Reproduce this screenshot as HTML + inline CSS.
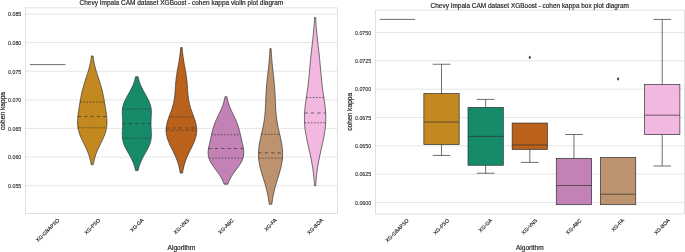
<!DOCTYPE html>
<html><head><meta charset="utf-8"><title>cohen kappa plots</title>
<style>html,body{margin:0;padding:0;background:#fff;font-family:"Liberation Sans",sans-serif}svg{display:block}</style></head>
<body>
<svg width="685" height="252" viewBox="0 0 685 252">
<rect width="685" height="252" fill="#fff"/>
<line x1="25.4" x2="337.4" y1="14.00" y2="14.00" stroke="#cccccc" stroke-width="0.5"/>
<text x="21.30" y="16.30" font-size="5.3" text-anchor="end" fill="#262626" font-family="Liberation Sans, sans-serif" stroke="#262626" stroke-width="0.1">0.085</text>
<line x1="25.4" x2="337.4" y1="42.61" y2="42.61" stroke="#cccccc" stroke-width="0.5"/>
<text x="21.30" y="44.91" font-size="5.3" text-anchor="end" fill="#262626" font-family="Liberation Sans, sans-serif" stroke="#262626" stroke-width="0.1">0.080</text>
<line x1="25.4" x2="337.4" y1="71.22" y2="71.22" stroke="#cccccc" stroke-width="0.5"/>
<text x="21.30" y="73.52" font-size="5.3" text-anchor="end" fill="#262626" font-family="Liberation Sans, sans-serif" stroke="#262626" stroke-width="0.1">0.075</text>
<line x1="25.4" x2="337.4" y1="99.83" y2="99.83" stroke="#cccccc" stroke-width="0.5"/>
<text x="21.30" y="102.13" font-size="5.3" text-anchor="end" fill="#262626" font-family="Liberation Sans, sans-serif" stroke="#262626" stroke-width="0.1">0.070</text>
<line x1="25.4" x2="337.4" y1="128.44" y2="128.44" stroke="#cccccc" stroke-width="0.5"/>
<text x="21.30" y="130.74" font-size="5.3" text-anchor="end" fill="#262626" font-family="Liberation Sans, sans-serif" stroke="#262626" stroke-width="0.1">0.065</text>
<line x1="25.4" x2="337.4" y1="157.05" y2="157.05" stroke="#cccccc" stroke-width="0.5"/>
<text x="21.30" y="159.35" font-size="5.3" text-anchor="end" fill="#262626" font-family="Liberation Sans, sans-serif" stroke="#262626" stroke-width="0.1">0.060</text>
<line x1="25.4" x2="337.4" y1="185.66" y2="185.66" stroke="#cccccc" stroke-width="0.5"/>
<text x="21.30" y="187.96" font-size="5.3" text-anchor="end" fill="#262626" font-family="Liberation Sans, sans-serif" stroke="#262626" stroke-width="0.1">0.055</text>
<line x1="29.86" x2="65.51" y1="64.62" y2="64.62" stroke="#303030" stroke-width="0.7"/>
<path d="M91.15,164.60 L90.98,163.50 L90.78,162.40 L90.56,161.30 L90.32,160.21 L90.06,159.11 L89.77,158.01 L89.45,156.91 L89.11,155.82 L88.74,154.72 L88.34,153.62 L87.93,152.53 L87.48,151.43 L87.02,150.33 L86.54,149.23 L86.04,148.14 L85.52,147.04 L84.99,145.94 L84.46,144.84 L83.92,143.75 L83.38,142.65 L82.84,141.55 L82.31,140.46 L81.79,139.36 L81.29,138.26 L80.81,137.16 L80.36,136.07 L79.93,134.97 L79.53,133.87 L79.16,132.77 L78.83,131.68 L78.54,130.58 L78.28,129.48 L78.06,128.39 L77.88,127.29 L77.74,126.19 L77.63,125.09 L77.56,124.00 L77.52,122.90 L77.51,121.80 L77.54,120.70 L77.58,119.61 L77.65,118.51 L77.75,117.41 L77.86,116.32 L77.98,115.22 L78.12,114.12 L78.27,113.02 L78.42,111.93 L78.59,110.83 L78.76,109.73 L78.93,108.63 L79.10,107.54 L79.28,106.44 L79.46,105.34 L79.64,104.25 L79.82,103.15 L80.00,102.05 L80.19,100.95 L80.38,99.86 L80.58,98.76 L80.78,97.66 L80.99,96.56 L81.21,95.47 L81.43,94.37 L81.67,93.27 L81.92,92.18 L82.18,91.08 L82.44,89.98 L82.73,88.88 L83.02,87.79 L83.33,86.69 L83.64,85.59 L83.97,84.49 L84.31,83.40 L84.65,82.30 L85.01,81.20 L85.37,80.11 L85.73,79.01 L86.09,77.91 L86.46,76.81 L86.82,75.72 L87.18,74.62 L87.53,73.52 L87.88,72.42 L88.21,71.33 L88.54,70.23 L88.85,69.13 L89.15,68.03 L89.44,66.94 L89.71,65.84 L89.96,64.74 L90.20,63.65 L90.42,62.55 L90.63,61.45 L90.81,60.35 L90.99,59.26 L91.14,58.16 L91.29,57.06 L91.41,55.96 L93.10,55.96 L93.23,57.06 L93.37,58.16 L93.53,59.26 L93.70,60.35 L93.89,61.45 L94.09,62.55 L94.31,63.65 L94.55,64.74 L94.81,65.84 L95.08,66.94 L95.36,68.03 L95.66,69.13 L95.98,70.23 L96.30,71.33 L96.64,72.42 L96.98,73.52 L97.34,74.62 L97.70,75.72 L98.06,76.81 L98.42,77.91 L98.79,79.01 L99.15,80.11 L99.51,81.20 L99.86,82.30 L100.21,83.40 L100.54,84.49 L100.87,85.59 L101.19,86.69 L101.49,87.79 L101.79,88.88 L102.07,89.98 L102.34,91.08 L102.60,92.18 L102.84,93.27 L103.08,94.37 L103.31,95.47 L103.52,96.56 L103.73,97.66 L103.93,98.76 L104.13,99.86 L104.32,100.95 L104.51,102.05 L104.70,103.15 L104.88,104.25 L105.06,105.34 L105.24,106.44 L105.41,107.54 L105.59,108.63 L105.76,109.73 L105.93,110.83 L106.09,111.93 L106.25,113.02 L106.39,114.12 L106.53,115.22 L106.66,116.32 L106.77,117.41 L106.86,118.51 L106.93,119.61 L106.98,120.70 L107.00,121.80 L106.99,122.90 L106.96,124.00 L106.88,125.09 L106.78,126.19 L106.63,127.29 L106.45,128.39 L106.23,129.48 L105.98,130.58 L105.68,131.68 L105.35,132.77 L104.99,133.87 L104.59,134.97 L104.16,136.07 L103.70,137.16 L103.22,138.26 L102.72,139.36 L102.20,140.46 L101.67,141.55 L101.14,142.65 L100.60,143.75 L100.06,144.84 L99.52,145.94 L98.99,147.04 L98.48,148.14 L97.98,149.23 L97.49,150.33 L97.03,151.43 L96.59,152.53 L96.17,153.62 L95.78,154.72 L95.41,155.82 L95.06,156.91 L94.75,158.01 L94.46,159.11 L94.19,160.21 L93.95,161.30 L93.73,162.40 L93.54,163.50 L93.36,164.60Z" fill="#c38820" stroke="#303030" stroke-width="0.7" stroke-linejoin="miter"/>
<line x1="77.96" x2="106.55" y1="127.78" y2="127.78" stroke="#303030" stroke-width="0.7" stroke-dasharray="1.59 1.59"/>
<line x1="77.84" x2="106.67" y1="116.45" y2="116.45" stroke="#303030" stroke-width="0.7" stroke-dasharray="3.18 3.18"/>
<line x1="80.01" x2="104.51" y1="102.03" y2="102.03" stroke="#303030" stroke-width="0.7" stroke-dasharray="1.59 1.59"/>
<path d="M135.54,170.56 L135.34,169.61 L135.13,168.66 L134.89,167.71 L134.63,166.76 L134.34,165.82 L134.03,164.87 L133.69,163.92 L133.33,162.97 L132.94,162.03 L132.52,161.08 L132.09,160.13 L131.63,159.18 L131.15,158.23 L130.66,157.29 L130.14,156.34 L129.62,155.39 L129.09,154.44 L128.55,153.49 L128.01,152.55 L127.48,151.60 L126.95,150.65 L126.44,149.70 L125.94,148.76 L125.46,147.81 L125.01,146.86 L124.58,145.91 L124.19,144.96 L123.83,144.02 L123.50,143.07 L123.22,142.12 L122.97,141.17 L122.76,140.22 L122.59,139.28 L122.46,138.33 L122.36,137.38 L122.29,136.43 L122.26,135.49 L122.24,134.54 L122.26,133.59 L122.28,132.64 L122.33,131.69 L122.38,130.75 L122.43,129.80 L122.49,128.85 L122.54,127.90 L122.59,126.95 L122.63,126.01 L122.65,125.06 L122.67,124.11 L122.67,123.16 L122.66,122.22 L122.63,121.27 L122.59,120.32 L122.55,119.37 L122.49,118.42 L122.44,117.48 L122.38,116.53 L122.33,115.58 L122.29,114.63 L122.26,113.68 L122.25,112.74 L122.26,111.79 L122.30,110.84 L122.37,109.89 L122.47,108.95 L122.60,108.00 L122.78,107.05 L122.99,106.10 L123.24,105.15 L123.52,104.21 L123.85,103.26 L124.21,102.31 L124.60,101.36 L125.03,100.41 L125.48,99.47 L125.96,98.52 L126.46,97.57 L126.97,96.62 L127.50,95.67 L128.03,94.73 L128.57,93.78 L129.11,92.83 L129.64,91.88 L130.16,90.94 L130.67,89.99 L131.17,89.04 L131.64,88.09 L132.10,87.14 L132.54,86.20 L132.95,85.25 L133.34,84.30 L133.70,83.35 L134.04,82.40 L134.35,81.46 L134.63,80.51 L134.89,79.56 L135.13,78.61 L135.35,77.67 L135.54,76.72 L138.12,76.72 L138.31,77.67 L138.53,78.61 L138.76,79.56 L139.02,80.51 L139.31,81.46 L139.62,82.40 L139.96,83.35 L140.32,84.30 L140.71,85.25 L141.12,86.20 L141.55,87.14 L142.01,88.09 L142.49,89.04 L142.99,89.99 L143.50,90.94 L144.02,91.88 L144.55,92.83 L145.09,93.78 L145.62,94.73 L146.16,95.67 L146.68,96.62 L147.20,97.57 L147.70,98.52 L148.18,99.47 L148.63,100.41 L149.05,101.36 L149.45,102.31 L149.81,103.26 L150.13,104.21 L150.42,105.15 L150.67,106.10 L150.88,107.05 L151.05,108.00 L151.19,108.95 L151.29,109.89 L151.36,110.84 L151.39,111.79 L151.41,112.74 L151.40,113.68 L151.37,114.63 L151.33,115.58 L151.28,116.53 L151.22,117.48 L151.16,118.42 L151.11,119.37 L151.07,120.32 L151.03,121.27 L151.00,122.22 L150.99,123.16 L150.99,124.11 L151.00,125.06 L151.03,126.01 L151.07,126.95 L151.11,127.90 L151.17,128.85 L151.22,129.80 L151.28,130.75 L151.33,131.69 L151.37,132.64 L151.40,133.59 L151.41,134.54 L151.40,135.49 L151.36,136.43 L151.30,137.38 L151.20,138.33 L151.07,139.28 L150.90,140.22 L150.69,141.17 L150.44,142.12 L150.15,143.07 L149.83,144.02 L149.47,144.96 L149.07,145.91 L148.65,146.86 L148.20,147.81 L147.72,148.76 L147.22,149.70 L146.71,150.65 L146.18,151.60 L145.64,152.55 L145.11,153.49 L144.57,154.44 L144.04,155.39 L143.51,156.34 L143.00,157.29 L142.51,158.23 L142.03,159.18 L141.57,160.13 L141.13,161.08 L140.72,162.03 L140.33,162.97 L139.97,163.92 L139.63,164.87 L139.32,165.82 L139.03,166.76 L138.77,167.71 L138.53,168.66 L138.32,169.61 L138.12,170.56Z" fill="#158b6a" stroke="#303030" stroke-width="0.7" stroke-linejoin="miter"/>
<line x1="122.45" x2="151.21" y1="138.25" y2="138.25" stroke="#303030" stroke-width="0.7" stroke-dasharray="1.59 1.59"/>
<line x1="122.67" x2="150.99" y1="123.67" y2="123.67" stroke="#303030" stroke-width="0.7" stroke-dasharray="3.18 3.18"/>
<line x1="122.46" x2="151.20" y1="109.07" y2="109.07" stroke="#303030" stroke-width="0.7" stroke-dasharray="1.59 1.59"/>
<path d="M180.23,173.10 L180.03,171.83 L179.82,170.56 L179.58,169.29 L179.31,168.02 L179.01,166.76 L178.68,165.49 L178.33,164.22 L177.94,162.95 L177.52,161.68 L177.07,160.41 L176.59,159.15 L176.08,157.88 L175.54,156.61 L174.98,155.34 L174.40,154.07 L173.80,152.80 L173.19,151.53 L172.57,150.27 L171.94,149.00 L171.32,147.73 L170.70,146.46 L170.10,145.19 L169.52,143.92 L168.96,142.65 L168.44,141.39 L167.96,140.12 L167.52,138.85 L167.14,137.58 L166.80,136.31 L166.53,135.04 L166.32,133.78 L166.17,132.51 L166.08,131.24 L166.07,129.97 L166.11,128.70 L166.22,127.43 L166.39,126.16 L166.62,124.90 L166.89,123.63 L167.22,122.36 L167.58,121.09 L167.98,119.82 L168.41,118.55 L168.86,117.28 L169.32,116.02 L169.79,114.75 L170.26,113.48 L170.73,112.21 L171.18,110.94 L171.62,109.67 L172.04,108.41 L172.43,107.14 L172.80,105.87 L173.14,104.60 L173.45,103.33 L173.73,102.06 L173.98,100.79 L174.20,99.53 L174.39,98.26 L174.56,96.99 L174.70,95.72 L174.83,94.45 L174.94,93.18 L175.04,91.91 L175.13,90.65 L175.22,89.38 L175.30,88.11 L175.39,86.84 L175.48,85.57 L175.57,84.30 L175.68,83.04 L175.80,81.77 L175.93,80.50 L176.07,79.23 L176.22,77.96 L176.39,76.69 L176.57,75.42 L176.76,74.16 L176.96,72.89 L177.17,71.62 L177.39,70.35 L177.61,69.08 L177.84,67.81 L178.07,66.54 L178.30,65.28 L178.52,64.01 L178.74,62.74 L178.96,61.47 L179.17,60.20 L179.37,58.93 L179.56,57.67 L179.74,56.40 L179.91,55.13 L180.07,53.86 L180.22,52.59 L180.35,51.32 L180.48,50.05 L180.59,48.79 L180.70,47.52 L182.10,47.52 L182.21,48.79 L182.32,50.05 L182.45,51.32 L182.58,52.59 L182.73,53.86 L182.89,55.13 L183.06,56.40 L183.24,57.67 L183.43,58.93 L183.63,60.20 L183.84,61.47 L184.06,62.74 L184.28,64.01 L184.50,65.28 L184.73,66.54 L184.96,67.81 L185.19,69.08 L185.41,70.35 L185.63,71.62 L185.84,72.89 L186.04,74.16 L186.23,75.42 L186.41,76.69 L186.58,77.96 L186.73,79.23 L186.87,80.50 L187.00,81.77 L187.12,83.04 L187.23,84.30 L187.32,85.57 L187.41,86.84 L187.50,88.11 L187.58,89.38 L187.67,90.65 L187.76,91.91 L187.86,93.18 L187.97,94.45 L188.10,95.72 L188.24,96.99 L188.41,98.26 L188.60,99.53 L188.82,100.79 L189.07,102.06 L189.35,103.33 L189.66,104.60 L190.00,105.87 L190.37,107.14 L190.76,108.41 L191.18,109.67 L191.62,110.94 L192.07,112.21 L192.54,113.48 L193.01,114.75 L193.48,116.02 L193.94,117.28 L194.39,118.55 L194.82,119.82 L195.22,121.09 L195.58,122.36 L195.91,123.63 L196.18,124.90 L196.41,126.16 L196.58,127.43 L196.69,128.70 L196.73,129.97 L196.72,131.24 L196.63,132.51 L196.48,133.78 L196.27,135.04 L196.00,136.31 L195.66,137.58 L195.28,138.85 L194.84,140.12 L194.36,141.39 L193.84,142.65 L193.28,143.92 L192.70,145.19 L192.10,146.46 L191.48,147.73 L190.86,149.00 L190.23,150.27 L189.61,151.53 L189.00,152.80 L188.40,154.07 L187.82,155.34 L187.26,156.61 L186.72,157.88 L186.21,159.15 L185.73,160.41 L185.28,161.68 L184.86,162.95 L184.47,164.22 L184.12,165.49 L183.79,166.76 L183.49,168.02 L183.22,169.29 L182.98,170.56 L182.77,171.83 L182.57,173.10Z" fill="#ba611b" stroke="#303030" stroke-width="0.7" stroke-linejoin="miter"/>
<line x1="166.07" x2="196.73" y1="130.25" y2="130.25" stroke="#303030" stroke-width="0.7" stroke-dasharray="1.59 1.59"/>
<line x1="166.17" x2="196.63" y1="128.03" y2="128.03" stroke="#303030" stroke-width="0.7" stroke-dasharray="3.18 3.18"/>
<line x1="168.98" x2="193.82" y1="116.95" y2="116.95" stroke="#303030" stroke-width="0.7" stroke-dasharray="1.59 1.59"/>
<path d="M224.00,184.14 L223.71,183.25 L223.40,182.37 L223.05,181.49 L222.68,180.61 L222.27,179.72 L221.83,178.84 L221.36,177.96 L220.86,177.08 L220.33,176.19 L219.77,175.31 L219.19,174.43 L218.58,173.55 L217.96,172.66 L217.32,171.78 L216.67,170.90 L216.01,170.02 L215.35,169.13 L214.69,168.25 L214.04,167.37 L213.41,166.49 L212.79,165.60 L212.20,164.72 L211.63,163.84 L211.10,162.96 L210.61,162.07 L210.15,161.19 L209.74,160.31 L209.38,159.43 L209.06,158.54 L208.79,157.66 L208.57,156.78 L208.39,155.89 L208.27,155.01 L208.18,154.13 L208.14,153.25 L208.14,152.36 L208.18,151.48 L208.25,150.60 L208.34,149.72 L208.46,148.83 L208.61,147.95 L208.77,147.07 L208.94,146.19 L209.13,145.30 L209.32,144.42 L209.52,143.54 L209.72,142.66 L209.93,141.77 L210.13,140.89 L210.33,140.01 L210.53,139.13 L210.73,138.24 L210.93,137.36 L211.12,136.48 L211.32,135.60 L211.52,134.71 L211.72,133.83 L211.92,132.95 L212.13,132.06 L212.34,131.18 L212.57,130.30 L212.80,129.42 L213.05,128.53 L213.30,127.65 L213.58,126.77 L213.86,125.89 L214.16,125.00 L214.48,124.12 L214.81,123.24 L215.16,122.36 L215.52,121.47 L215.90,120.59 L216.28,119.71 L216.68,118.83 L217.09,117.94 L217.51,117.06 L217.93,116.18 L218.35,115.30 L218.78,114.41 L219.21,113.53 L219.63,112.65 L220.05,111.77 L220.46,110.88 L220.86,110.00 L221.25,109.12 L221.62,108.24 L221.99,107.35 L222.33,106.47 L222.66,105.59 L222.97,104.70 L223.27,103.82 L223.54,102.94 L223.80,102.06 L224.04,101.17 L224.25,100.29 L224.45,99.41 L224.64,98.53 L224.80,97.64 L224.95,96.76 L226.99,96.76 L227.14,97.64 L227.31,98.53 L227.49,99.41 L227.69,100.29 L227.91,101.17 L228.14,102.06 L228.40,102.94 L228.67,103.82 L228.97,104.70 L229.28,105.59 L229.61,106.47 L229.96,107.35 L230.32,108.24 L230.70,109.12 L231.08,110.00 L231.49,110.88 L231.90,111.77 L232.31,112.65 L232.74,113.53 L233.16,114.41 L233.59,115.30 L234.02,116.18 L234.44,117.06 L234.85,117.94 L235.26,118.83 L235.66,119.71 L236.05,120.59 L236.42,121.47 L236.78,122.36 L237.13,123.24 L237.46,124.12 L237.78,125.00 L238.08,125.89 L238.37,126.77 L238.64,127.65 L238.90,128.53 L239.14,129.42 L239.38,130.30 L239.60,131.18 L239.81,132.06 L240.02,132.95 L240.23,133.83 L240.43,134.71 L240.62,135.60 L240.82,136.48 L241.01,137.36 L241.21,138.24 L241.41,139.13 L241.61,140.01 L241.81,140.89 L242.02,141.77 L242.22,142.66 L242.42,143.54 L242.62,144.42 L242.81,145.30 L243.00,146.19 L243.17,147.07 L243.34,147.95 L243.48,148.83 L243.60,149.72 L243.70,150.60 L243.77,151.48 L243.80,152.36 L243.80,153.25 L243.76,154.13 L243.68,155.01 L243.55,155.89 L243.37,156.78 L243.15,157.66 L242.88,158.54 L242.57,159.43 L242.20,160.31 L241.79,161.19 L241.34,162.07 L240.84,162.96 L240.31,163.84 L239.75,164.72 L239.15,165.60 L238.54,166.49 L237.90,167.37 L237.25,168.25 L236.59,169.13 L235.93,170.02 L235.28,170.90 L234.62,171.78 L233.98,172.66 L233.36,173.55 L232.75,174.43 L232.17,175.31 L231.61,176.19 L231.08,177.08 L230.58,177.96 L230.11,178.84 L229.67,179.72 L229.27,180.61 L228.89,181.49 L228.55,182.37 L228.23,183.25 L227.95,184.14Z" fill="#c282b5" stroke="#303030" stroke-width="0.7" stroke-linejoin="miter"/>
<line x1="208.95" x2="243.00" y1="158.17" y2="158.17" stroke="#303030" stroke-width="0.7" stroke-dasharray="1.59 1.59"/>
<line x1="208.52" x2="243.42" y1="148.48" y2="148.48" stroke="#303030" stroke-width="0.7" stroke-dasharray="3.18 3.18"/>
<line x1="211.50" x2="240.44" y1="134.77" y2="134.77" stroke="#303030" stroke-width="0.7" stroke-dasharray="1.59 1.59"/>
<path d="M269.24,204.25 L269.05,202.68 L268.83,201.11 L268.59,199.54 L268.33,197.96 L268.05,196.39 L267.74,194.82 L267.41,193.25 L267.05,191.67 L266.68,190.10 L266.28,188.53 L265.86,186.96 L265.42,185.38 L264.96,183.81 L264.50,182.24 L264.02,180.67 L263.53,179.09 L263.05,177.52 L262.56,175.95 L262.09,174.38 L261.62,172.80 L261.17,171.23 L260.74,169.66 L260.33,168.09 L259.96,166.51 L259.62,164.94 L259.31,163.37 L259.05,161.80 L258.83,160.22 L258.66,158.65 L258.54,157.08 L258.47,155.51 L258.44,153.93 L258.47,152.36 L258.54,150.79 L258.66,149.22 L258.82,147.64 L259.02,146.07 L259.26,144.50 L259.53,142.93 L259.83,141.35 L260.16,139.78 L260.50,138.21 L260.85,136.64 L261.21,135.06 L261.57,133.49 L261.94,131.92 L262.29,130.35 L262.64,128.77 L262.97,127.20 L263.29,125.63 L263.58,124.05 L263.86,122.48 L264.11,120.91 L264.35,119.34 L264.55,117.76 L264.74,116.19 L264.90,114.62 L265.05,113.05 L265.17,111.47 L265.28,109.90 L265.38,108.33 L265.46,106.76 L265.54,105.18 L265.60,103.61 L265.67,102.04 L265.73,100.47 L265.79,98.89 L265.86,97.32 L265.93,95.75 L266.01,94.18 L266.10,92.60 L266.19,91.03 L266.30,89.46 L266.41,87.89 L266.54,86.31 L266.67,84.74 L266.82,83.17 L266.97,81.60 L267.13,80.02 L267.29,78.45 L267.46,76.88 L267.63,75.31 L267.81,73.73 L267.98,72.16 L268.16,70.59 L268.33,69.02 L268.50,67.44 L268.66,65.87 L268.82,64.30 L268.97,62.73 L269.12,61.15 L269.26,59.58 L269.39,58.01 L269.51,56.44 L269.62,54.86 L269.73,53.29 L269.82,51.72 L269.91,50.15 L269.99,48.57 L271.10,48.57 L271.17,50.15 L271.26,51.72 L271.36,53.29 L271.46,54.86 L271.58,56.44 L271.70,58.01 L271.83,59.58 L271.97,61.15 L272.11,62.73 L272.26,64.30 L272.42,65.87 L272.59,67.44 L272.76,69.02 L272.93,70.59 L273.10,72.16 L273.28,73.73 L273.45,75.31 L273.63,76.88 L273.79,78.45 L273.96,80.02 L274.12,81.60 L274.27,83.17 L274.41,84.74 L274.55,86.31 L274.67,87.89 L274.79,89.46 L274.89,91.03 L274.99,92.60 L275.07,94.18 L275.15,95.75 L275.22,97.32 L275.29,98.89 L275.35,100.47 L275.42,102.04 L275.48,103.61 L275.55,105.18 L275.62,106.76 L275.71,108.33 L275.80,109.90 L275.91,111.47 L276.04,113.05 L276.18,114.62 L276.35,116.19 L276.53,117.76 L276.74,119.34 L276.97,120.91 L277.23,122.48 L277.50,124.05 L277.80,125.63 L278.11,127.20 L278.45,128.77 L278.79,130.35 L279.15,131.92 L279.51,133.49 L279.88,135.06 L280.24,136.64 L280.59,138.21 L280.93,139.78 L281.25,141.35 L281.55,142.93 L281.82,144.50 L282.06,146.07 L282.26,147.64 L282.43,149.22 L282.55,150.79 L282.62,152.36 L282.64,153.93 L282.62,155.51 L282.54,157.08 L282.42,158.65 L282.25,160.22 L282.03,161.80 L281.77,163.37 L281.47,164.94 L281.13,166.51 L280.75,168.09 L280.35,169.66 L279.92,171.23 L279.47,172.80 L279.00,174.38 L278.52,175.95 L278.04,177.52 L277.55,179.09 L277.07,180.67 L276.59,182.24 L276.12,183.81 L275.67,185.38 L275.23,186.96 L274.81,188.53 L274.41,190.10 L274.03,191.67 L273.68,193.25 L273.34,194.82 L273.04,196.39 L272.75,197.96 L272.49,199.54 L272.25,201.11 L272.04,202.68 L271.85,204.25Z" fill="#bd926e" stroke="#303030" stroke-width="0.7" stroke-linejoin="miter"/>
<line x1="258.63" x2="282.46" y1="158.17" y2="158.17" stroke="#303030" stroke-width="0.7" stroke-dasharray="1.59 1.59"/>
<line x1="258.46" x2="282.63" y1="152.87" y2="152.87" stroke="#303030" stroke-width="0.7" stroke-dasharray="3.18 3.18"/>
<line x1="261.38" x2="279.71" y1="134.34" y2="134.34" stroke="#303030" stroke-width="0.7" stroke-dasharray="1.59 1.59"/>
<path d="M314.50,185.83 L314.40,184.13 L314.28,182.43 L314.16,180.73 L314.02,179.02 L313.86,177.32 L313.69,175.62 L313.50,173.92 L313.29,172.22 L313.07,170.52 L312.83,168.82 L312.57,167.12 L312.30,165.42 L312.01,163.71 L311.70,162.01 L311.38,160.31 L311.04,158.61 L310.69,156.91 L310.33,155.21 L309.96,153.51 L309.58,151.81 L309.20,150.11 L308.81,148.40 L308.43,146.70 L308.04,145.00 L307.66,143.30 L307.29,141.60 L306.93,139.90 L306.59,138.20 L306.26,136.50 L305.95,134.80 L305.67,133.09 L305.41,131.39 L305.18,129.69 L304.97,127.99 L304.80,126.29 L304.66,124.59 L304.55,122.89 L304.48,121.19 L304.44,119.49 L304.44,117.78 L304.46,116.08 L304.52,114.38 L304.62,112.68 L304.74,110.98 L304.88,109.28 L305.05,107.58 L305.24,105.88 L305.45,104.18 L305.67,102.47 L305.90,100.77 L306.15,99.07 L306.39,97.37 L306.64,95.67 L306.89,93.97 L307.13,92.27 L307.37,90.57 L307.60,88.87 L307.82,87.16 L308.04,85.46 L308.24,83.76 L308.43,82.06 L308.62,80.36 L308.79,78.66 L308.96,76.96 L309.12,75.26 L309.28,73.56 L309.43,71.85 L309.58,70.15 L309.73,68.45 L309.88,66.75 L310.03,65.05 L310.18,63.35 L310.34,61.65 L310.51,59.95 L310.68,58.25 L310.85,56.54 L311.03,54.84 L311.22,53.14 L311.41,51.44 L311.60,49.74 L311.80,48.04 L311.99,46.34 L312.19,44.64 L312.39,42.94 L312.58,41.23 L312.78,39.53 L312.96,37.83 L313.14,36.13 L313.32,34.43 L313.49,32.73 L313.64,31.03 L313.79,29.33 L313.93,27.63 L314.06,25.92 L314.19,24.22 L314.30,22.52 L314.40,20.82 L314.49,19.12 L314.57,17.42 L315.66,17.42 L315.74,19.12 L315.83,20.82 L315.93,22.52 L316.04,24.22 L316.16,25.92 L316.29,27.63 L316.43,29.33 L316.58,31.03 L316.74,32.73 L316.91,34.43 L317.08,36.13 L317.27,37.83 L317.45,39.53 L317.64,41.23 L317.84,42.94 L318.04,44.64 L318.23,46.34 L318.43,48.04 L318.63,49.74 L318.82,51.44 L319.01,53.14 L319.20,54.84 L319.38,56.54 L319.55,58.25 L319.72,59.95 L319.89,61.65 L320.05,63.35 L320.20,65.05 L320.35,66.75 L320.50,68.45 L320.65,70.15 L320.80,71.85 L320.95,73.56 L321.11,75.26 L321.27,76.96 L321.43,78.66 L321.61,80.36 L321.79,82.06 L321.99,83.76 L322.19,85.46 L322.41,87.16 L322.63,88.87 L322.86,90.57 L323.10,92.27 L323.34,93.97 L323.59,95.67 L323.84,97.37 L324.08,99.07 L324.32,100.77 L324.56,102.47 L324.78,104.18 L324.99,105.88 L325.18,107.58 L325.35,109.28 L325.49,110.98 L325.61,112.68 L325.70,114.38 L325.76,116.08 L325.79,117.78 L325.79,119.49 L325.75,121.19 L325.68,122.89 L325.57,124.59 L325.43,126.29 L325.26,127.99 L325.05,129.69 L324.82,131.39 L324.56,133.09 L324.27,134.80 L323.97,136.50 L323.64,138.20 L323.29,139.90 L322.93,141.60 L322.56,143.30 L322.19,145.00 L321.80,146.70 L321.42,148.40 L321.03,150.11 L320.65,151.81 L320.27,153.51 L319.90,155.21 L319.54,156.91 L319.19,158.61 L318.85,160.31 L318.53,162.01 L318.22,163.71 L317.93,165.42 L317.66,167.12 L317.40,168.82 L317.16,170.52 L316.94,172.22 L316.73,173.92 L316.54,175.62 L316.37,177.32 L316.21,179.02 L316.07,180.73 L315.95,182.43 L315.83,184.13 L315.73,185.83Z" fill="#f2b8e0" stroke="#303030" stroke-width="0.7" stroke-linejoin="miter"/>
<line x1="304.55" x2="325.68" y1="122.78" y2="122.78" stroke="#303030" stroke-width="0.7" stroke-dasharray="1.59 1.59"/>
<line x1="304.60" x2="325.63" y1="112.97" y2="112.97" stroke="#303030" stroke-width="0.7" stroke-dasharray="3.18 3.18"/>
<line x1="306.38" x2="323.85" y1="97.48" y2="97.48" stroke="#303030" stroke-width="0.7" stroke-dasharray="1.59 1.59"/>
<rect x="25.4" y="7.9" width="312.00" height="205.50" fill="none" stroke="#cccccc" stroke-width="0.62"/>
<text transform="translate(47.69,230.19) rotate(-45)" font-size="5.12" text-anchor="middle" dy="1.79" fill="#262626" font-family="Liberation Sans, sans-serif" stroke="#262626" stroke-width="0.14">XG-GBAPSO</text>
<text transform="translate(92.26,226.37) rotate(-45)" font-size="5.12" text-anchor="middle" dy="1.79" fill="#262626" font-family="Liberation Sans, sans-serif" stroke="#262626" stroke-width="0.14">XG-PSO</text>
<text transform="translate(136.83,225.16) rotate(-45)" font-size="5.12" text-anchor="middle" dy="1.79" fill="#262626" font-family="Liberation Sans, sans-serif" stroke="#262626" stroke-width="0.14">XG-GA</text>
<text transform="translate(181.40,226.27) rotate(-45)" font-size="5.12" text-anchor="middle" dy="1.79" fill="#262626" font-family="Liberation Sans, sans-serif" stroke="#262626" stroke-width="0.14">XG-VNS</text>
<text transform="translate(225.97,226.27) rotate(-45)" font-size="5.12" text-anchor="middle" dy="1.79" fill="#262626" font-family="Liberation Sans, sans-serif" stroke="#262626" stroke-width="0.14">XG-ABC</text>
<text transform="translate(270.54,224.76) rotate(-45)" font-size="5.12" text-anchor="middle" dy="1.79" fill="#262626" font-family="Liberation Sans, sans-serif" stroke="#262626" stroke-width="0.14">XG-FA</text>
<text transform="translate(315.11,226.37) rotate(-45)" font-size="5.12" text-anchor="middle" dy="1.79" fill="#262626" font-family="Liberation Sans, sans-serif" stroke="#262626" stroke-width="0.14">XG-BOA</text>
<text x="181.40" y="5.4" font-size="6.49" text-anchor="middle" fill="#262626" font-family="Liberation Sans, sans-serif" stroke="#262626" stroke-width="0.18">Chevy Impala CAM dataset XGBoost - cohen kappa violin plot diagram</text>
<text x="181.40" y="249.6" font-size="6.55" text-anchor="middle" fill="#262626" font-family="Liberation Sans, sans-serif" stroke="#262626" stroke-width="0.18">Algorithm</text>
<text transform="translate(4.9,111.0) rotate(-90)" font-size="6.65" text-anchor="middle" fill="#262626" font-family="Liberation Sans, sans-serif" stroke="#262626" stroke-width="0.18">cohen kappa</text>
<line x1="375.3" x2="684.3" y1="32.48" y2="32.48" stroke="#cccccc" stroke-width="0.5"/>
<text x="371.20" y="34.78" font-size="5.3" text-anchor="end" fill="#262626" font-family="Liberation Sans, sans-serif" stroke="#262626" stroke-width="0.1">0.0750</text>
<line x1="375.3" x2="684.3" y1="60.81" y2="60.81" stroke="#cccccc" stroke-width="0.5"/>
<text x="371.20" y="63.11" font-size="5.3" text-anchor="end" fill="#262626" font-family="Liberation Sans, sans-serif" stroke="#262626" stroke-width="0.1">0.0725</text>
<line x1="375.3" x2="684.3" y1="89.15" y2="89.15" stroke="#cccccc" stroke-width="0.5"/>
<text x="371.20" y="91.45" font-size="5.3" text-anchor="end" fill="#262626" font-family="Liberation Sans, sans-serif" stroke="#262626" stroke-width="0.1">0.0700</text>
<line x1="375.3" x2="684.3" y1="117.48" y2="117.48" stroke="#cccccc" stroke-width="0.5"/>
<text x="371.20" y="119.78" font-size="5.3" text-anchor="end" fill="#262626" font-family="Liberation Sans, sans-serif" stroke="#262626" stroke-width="0.1">0.0675</text>
<line x1="375.3" x2="684.3" y1="145.81" y2="145.81" stroke="#cccccc" stroke-width="0.5"/>
<text x="371.20" y="148.11" font-size="5.3" text-anchor="end" fill="#262626" font-family="Liberation Sans, sans-serif" stroke="#262626" stroke-width="0.1">0.0650</text>
<line x1="375.3" x2="684.3" y1="174.15" y2="174.15" stroke="#cccccc" stroke-width="0.5"/>
<text x="371.20" y="176.45" font-size="5.3" text-anchor="end" fill="#262626" font-family="Liberation Sans, sans-serif" stroke="#262626" stroke-width="0.1">0.0625</text>
<line x1="375.3" x2="684.3" y1="202.48" y2="202.48" stroke="#cccccc" stroke-width="0.5"/>
<text x="371.20" y="204.78" font-size="5.3" text-anchor="end" fill="#262626" font-family="Liberation Sans, sans-serif" stroke="#262626" stroke-width="0.1">0.0600</text>
<line x1="379.71" x2="415.03" y1="19.40" y2="19.40" stroke="#303030" stroke-width="0.7"/>
<rect x="423.86" y="93.51" width="35.31" height="51.00" fill="#c38820" stroke="#303030" stroke-width="0.7"/>
<line x1="423.86" x2="459.17" y1="122.06" y2="122.06" stroke="#303030" stroke-width="0.7"/>
<path d="M441.51,93.51V64.24M432.69,64.24H450.34" fill="none" stroke="#303030" stroke-width="0.7"/>
<path d="M441.51,144.51V155.45M432.69,155.45H450.34" fill="none" stroke="#303030" stroke-width="0.7"/>
<rect x="468.00" y="107.45" width="35.31" height="57.80" fill="#158b6a" stroke="#303030" stroke-width="0.7"/>
<line x1="468.00" x2="503.31" y1="136.37" y2="136.37" stroke="#303030" stroke-width="0.7"/>
<path d="M485.66,107.45V99.40M476.83,99.40H494.49" fill="none" stroke="#303030" stroke-width="0.7"/>
<path d="M485.66,165.25V173.20M476.83,173.20H494.49" fill="none" stroke="#303030" stroke-width="0.7"/>
<rect x="512.14" y="123.05" width="35.31" height="26.35" fill="#ba611b" stroke="#303030" stroke-width="0.7"/>
<line x1="512.14" x2="547.46" y1="145.00" y2="145.00" stroke="#303030" stroke-width="0.7"/>
<path d="M529.80,149.40V162.40M520.97,162.40H538.63" fill="none" stroke="#303030" stroke-width="0.7"/>
<path d="M529.80,55.50L531.00,57.40L529.80,59.30L528.60,57.40Z" fill="#303030"/>
<rect x="556.29" y="158.35" width="35.31" height="46.35" fill="#c282b5" stroke="#303030" stroke-width="0.7"/>
<line x1="556.29" x2="591.60" y1="185.50" y2="185.50" stroke="#303030" stroke-width="0.7"/>
<path d="M573.94,158.35V134.50M565.11,134.50H582.77" fill="none" stroke="#303030" stroke-width="0.7"/>
<rect x="600.43" y="157.50" width="35.31" height="47.20" fill="#bd926e" stroke="#303030" stroke-width="0.7"/>
<line x1="600.43" x2="635.74" y1="194.20" y2="194.20" stroke="#303030" stroke-width="0.7"/>
<path d="M618.09,77.00L619.29,78.90L618.09,80.80L616.89,78.90Z" fill="#303030"/>
<rect x="644.57" y="84.50" width="35.31" height="50.10" fill="#f2b8e0" stroke="#303030" stroke-width="0.7"/>
<line x1="644.57" x2="679.89" y1="115.17" y2="115.17" stroke="#303030" stroke-width="0.7"/>
<path d="M662.23,84.50V19.40M653.40,19.40H671.06" fill="none" stroke="#303030" stroke-width="0.7"/>
<path d="M662.23,134.60V166.00M653.40,166.00H671.06" fill="none" stroke="#303030" stroke-width="0.7"/>
<rect x="375.3" y="10.1" width="309.00" height="203.90" fill="none" stroke="#cccccc" stroke-width="0.62"/>
<text transform="translate(397.07,230.44) rotate(-45)" font-size="5.12" text-anchor="middle" dy="1.79" fill="#262626" font-family="Liberation Sans, sans-serif" stroke="#262626" stroke-width="0.14">XG-GBAPSO</text>
<text transform="translate(441.21,226.62) rotate(-45)" font-size="5.12" text-anchor="middle" dy="1.79" fill="#262626" font-family="Liberation Sans, sans-serif" stroke="#262626" stroke-width="0.14">XG-PSO</text>
<text transform="translate(485.36,225.41) rotate(-45)" font-size="5.12" text-anchor="middle" dy="1.79" fill="#262626" font-family="Liberation Sans, sans-serif" stroke="#262626" stroke-width="0.14">XG-GA</text>
<text transform="translate(529.50,226.52) rotate(-45)" font-size="5.12" text-anchor="middle" dy="1.79" fill="#262626" font-family="Liberation Sans, sans-serif" stroke="#262626" stroke-width="0.14">XG-VNS</text>
<text transform="translate(573.64,226.52) rotate(-45)" font-size="5.12" text-anchor="middle" dy="1.79" fill="#262626" font-family="Liberation Sans, sans-serif" stroke="#262626" stroke-width="0.14">XG-ABC</text>
<text transform="translate(617.79,225.01) rotate(-45)" font-size="5.12" text-anchor="middle" dy="1.79" fill="#262626" font-family="Liberation Sans, sans-serif" stroke="#262626" stroke-width="0.14">XG-FA</text>
<text transform="translate(661.93,226.62) rotate(-45)" font-size="5.12" text-anchor="middle" dy="1.79" fill="#262626" font-family="Liberation Sans, sans-serif" stroke="#262626" stroke-width="0.14">XG-BOA</text>
<text x="529.80" y="7.7" font-size="6.46" text-anchor="middle" fill="#262626" font-family="Liberation Sans, sans-serif" stroke="#262626" stroke-width="0.18">Chevy Impala CAM dataset XGBoost - cohen kappa box plot diagram</text>
<text x="529.80" y="249.6" font-size="6.55" text-anchor="middle" fill="#262626" font-family="Liberation Sans, sans-serif" stroke="#262626" stroke-width="0.18">Algorithm</text>
<text transform="translate(351.7,111.8) rotate(-90)" font-size="6.65" text-anchor="middle" fill="#262626" font-family="Liberation Sans, sans-serif" stroke="#262626" stroke-width="0.18">cohen kappa</text>
</svg>
</body></html>
